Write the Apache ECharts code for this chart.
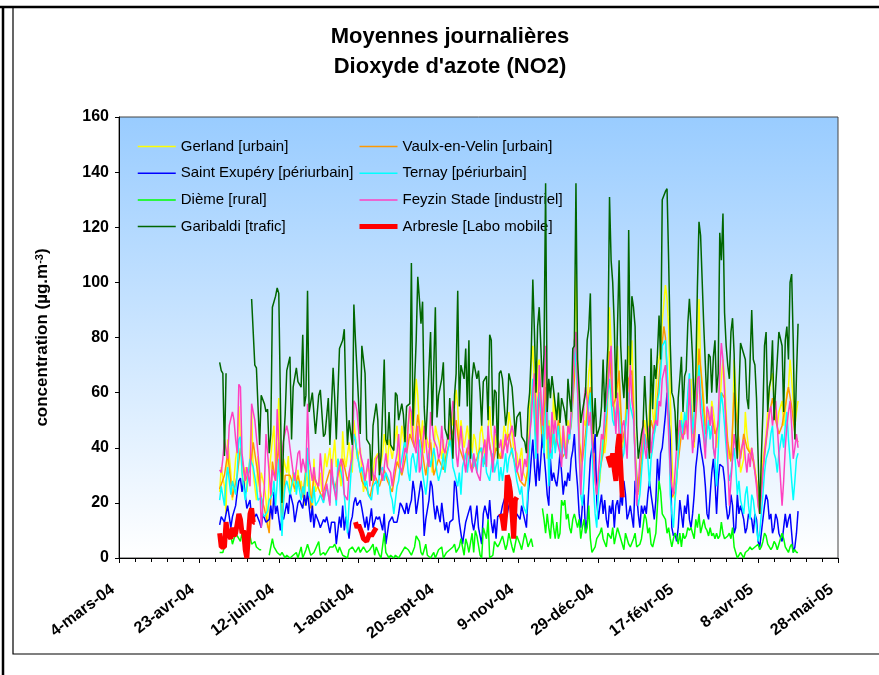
<!DOCTYPE html>
<html><head><meta charset="utf-8">
<script src="https://cdn.jsdelivr.net/npm/echarts@6/dist/echarts.min.js"></script>
<style>html,body{margin:0;padding:0;background:#fff}#c{width:879px;height:675px}</style>
</head><body><div id="c"></div>
<script>
// x = day index counted from 4-mars-04 (day 0)
const tickLabels = ['4-mars-04','23-avr-04','12-juin-04','1-août-04','20-sept-04','9-nov-04','29-déc-04','17-févr-05','8-avr-05','28-mai-05'];
const seriesNames = ['Gerland [urbain]','Vaulx-en-Velin [urbain]','Saint Exupéry [périurbain]','Ternay [périurbain]','Dième [rural]','Feyzin Stade [industriel]','Garibaldi [trafic]','Arbresle [Labo mobile]'];

const gerland = [[63,24],[64,33],[66,26],[67,16],[68,43],[70,31],[71,21],[73,36],[74,40],[75,55],[77,31],[78,25],[79,33],[80,24],[82,37],[83,54],[84,31],[86,21],[87,37],[88,24],[89,31],[91,26],[92,21],[93,11],[94,31],[96,43],[97,48],[98,31],[100,58],[101,31],[102,11],[103,36],[105,31],[106,37],[107,22],[109,31],[110,24],[112,32],[113,26],[114,28],[116,19],[117,33],[118,26],[119,32],[121,16],[122,36],[123,24],[125,27],[126,31],[127,24],[129,38],[130,33],[132,40],[133,31],[135,43],[136,33],[137,36],[139,26],[140,46],[141,37],[142,33],[144,42],[146,31],[147,50],[148,44],[149,36],[151,40],[152,31],[153,24],[155,31],[156,33],[158,28],[159,31],[160,36],[162,38],[163,31],[165,38],[166,45],[167,40],[168,33],[169,43],[171,36],[172,40],[174,48],[175,33],[176,40],[177,48],[179,40],[180,43],[181,48],[182,55],[183,45],[184,43],[185,53],[186,65],[187,59],[188,48],[189,43],[190,50],[191,38],[192,45],[194,40],[195,43],[196,31],[197,37],[198,48],[199,45],[200,43],[201,40],[202,36],[203,43],[204,31],[205,38],[206,40],[207,48],[208,53],[209,48],[211,61],[212,55],[213,40],[214,50],[215,45],[216,40],[218,48],[219,43],[220,45],[221,38],[222,45],[223,43],[224,38],[225,36],[226,45],[227,48],[228,43],[229,36],[230,38],[232,55],[233,45],[235,38],[236,45],[237,40],[238,36],[240,40],[241,48],[243,43],[244,53],[246,45],[247,40],[249,38],[250,33],[252,40],[253,31],[255,28],[256,36],[257,53],[258,70],[259,77],[260,62],[261,45],[262,70],[263,72],[264,57],[265,42],[266,60],[267,67],[268,36],[269,50],[271,40],[272,60],[273,48],[274,53],[275,57],[276,45],[277,40],[278,48],[279,43],[280,38],[281,50],[282,45],[283,53],[284,65],[285,77],[286,105],[287,72],[288,48],[289,31],[290,40],[291,50],[292,48],[293,55],[294,67],[295,72],[296,50],[297,38],[298,28],[299,23],[301,28],[302,38],[303,45],[304,38],[305,43],[306,60],[307,91],[308,77],[309,60],[310,50],[311,70],[312,77],[313,60],[314,50],[315,40],[316,43],[317,52],[318,62],[319,77],[320,67],[321,79],[322,60],[323,40],[324,26],[325,23],[326,28],[327,38],[328,45],[329,50],[330,45],[331,40],[332,55],[333,60],[334,53],[335,48],[336,60],[337,70],[338,72],[339,77],[340,86],[342,99],[343,94],[344,84],[345,60],[346,38],[347,23],[348,21],[349,28],[350,38],[351,48],[352,53],[353,43],[354,50],[355,48],[356,53],[357,60],[358,65],[359,48],[360,40],[361,60],[362,70],[363,94],[364,70],[366,57],[367,48],[368,53],[369,50],[370,48],[371,57],[372,53],[373,48],[374,40],[375,45],[376,55],[377,65],[378,72],[379,65],[380,53],[381,40],[382,36],[383,38],[384,45],[385,72],[386,60],[387,53],[388,40],[389,31],[391,36],[392,53],[393,45],[394,40],[395,38],[396,40],[397,36],[398,33],[399,28],[400,19],[401,16],[402,26],[403,36],[404,40],[405,45],[406,53],[407,60],[408,65],[409,67],[410,57],[411,53],[412,48],[413,53],[415,57],[416,48],[417,53],[418,60],[419,62],[420,72],[421,65],[422,57],[423,48],[424,53],[425,57]];

const vaulx = [[63,25],[66,30],[68,38],[71,22],[74,30],[76,40],[79,28],[82,32],[84,42],[87,30],[89,22],[91,18],[94,9],[96,35],[98,28],[100,42],[102,12],[104,30],[107,30],[110,25],[112,30],[115,22],[118,38],[120,18],[122,30],[125,25],[127,22],[130,28],[132,32],[135,25],[137,30],[140,36],[143,28],[145,32],[147,45],[150,35],[152,28],[155,25],[157,22],[160,30],[163,26],[166,32],[168,28],[171,24],[174,35],[177,30],[180,38],[182,45],[185,40],[187,52],[190,38],[192,30],[195,42],[197,30],[200,36],[203,32],[205,38],[208,44],[211,50],[213,40],[216,35],[218,40],[221,32],[224,36],[226,40],[229,34],[231,45],[234,34],[236,40],[239,36],[241,40],[244,45],[246,38],[249,32],[251,28],[254,26],[256,32],[258,55],[259,62],[261,42],[263,60],[265,40],[267,62],[269,35],[271,45],[273,40],[275,50],[277,36],[279,38],[281,42],[283,48],[285,65],[286,82],[288,42],[290,35],[292,45],[294,58],[295,62],[297,40],[299,25],[301,32],[303,38],[305,50],[307,75],[309,55],[311,58],[313,68],[315,42],[317,48],[319,65],[321,68],[323,38],[325,24],[327,35],[329,45],[331,40],[333,50],[335,45],[337,58],[339,72],[341,84],[342,80],[344,55],[346,22],[348,24],[350,35],[352,45],[354,45],[356,58],[358,55],[360,42],[362,60],[363,76],[365,62],[367,45],[369,48],[371,52],[373,45],[375,48],[377,60],[379,58],[381,42],[383,35],[385,60],[387,48],[389,36],[391,45],[393,40],[395,38],[397,35],[399,28],[401,18],[403,32],[405,42],[407,52],[409,58],[411,50],[413,45],[415,48],[417,55],[419,62],[421,55],[423,45],[425,42]];

const saintExupery = [[63,12],[64,15],[66,13],[68,19],[70,11],[71,15],[73,19],[74,24],[75,28],[76,29],[77,24],[78,28],[80,18],[82,21],[83,14],[85,15],[86,16],[88,13],[89,11],[90,16],[92,13],[94,14],[95,19],[96,14],[97,24],[98,16],[99,19],[101,10],[102,15],[103,14],[105,20],[106,16],[107,24],[109,19],[110,13],[112,20],[113,21],[115,18],[116,23],[117,19],[118,24],[120,13],[121,19],[122,11],[123,16],[125,13],[126,11],[128,14],[129,13],[130,15],[132,9],[133,13],[135,13],[136,5],[137,10],[138,15],[139,11],[140,19],[141,10],[142,15],[144,7],[145,13],[146,15],[147,20],[148,22],[149,19],[151,21],[152,18],[154,11],[155,15],[156,10],[158,18],[159,11],[161,15],[162,14],[163,15],[165,10],[166,16],[167,5],[169,13],[170,14],[171,15],[172,13],[174,13],[175,16],[176,20],[177,19],[179,16],[180,20],[181,16],[182,19],[183,21],[184,28],[185,24],[186,16],[188,24],[189,28],[190,24],[191,8],[192,14],[194,21],[195,28],[196,26],[197,19],[198,14],[199,19],[201,13],[202,20],[204,10],[205,13],[206,9],[207,13],[209,14],[210,28],[211,26],[212,19],[213,13],[214,9],[215,5],[217,13],[218,15],[220,19],[221,13],[222,10],[223,14],[224,19],[225,11],[227,5],[228,16],[229,19],[231,14],[232,21],[233,13],[234,9],[235,14],[236,7],[237,15],[239,16],[240,19],[242,23],[243,16],[244,19],[246,23],[247,14],[249,16],[251,14],[252,19],[253,19],[255,11],[256,23],[257,28],[258,36],[259,43],[260,33],[261,26],[262,38],[263,28],[264,36],[265,45],[267,31],[268,23],[269,19],[270,36],[271,28],[272,31],[273,28],[274,26],[275,31],[276,38],[277,31],[278,23],[279,28],[280,26],[281,31],[282,28],[283,36],[284,39],[285,45],[286,33],[287,26],[288,16],[289,11],[290,19],[291,23],[292,9],[293,14],[295,36],[296,40],[297,38],[298,45],[299,21],[300,14],[301,19],[302,23],[303,16],[304,21],[305,14],[306,11],[307,19],[308,16],[309,21],[310,11],[311,19],[312,21],[313,16],[314,23],[315,19],[316,28],[317,23],[318,14],[319,16],[320,19],[322,11],[323,28],[324,23],[325,16],[326,11],[327,19],[328,16],[329,19],[330,16],[331,23],[332,28],[333,23],[334,19],[335,14],[336,21],[337,36],[338,28],[339,38],[340,40],[342,52],[343,60],[344,52],[345,43],[346,11],[347,8],[348,9],[349,6],[350,11],[351,21],[352,16],[353,11],[354,19],[355,16],[356,23],[357,14],[358,11],[359,16],[360,23],[361,33],[362,38],[363,45],[364,40],[366,33],[367,26],[368,16],[369,14],[370,23],[371,31],[372,36],[373,28],[374,16],[375,28],[376,34],[377,34],[378,33],[379,28],[380,19],[381,14],[382,16],[383,23],[384,19],[385,9],[386,11],[387,23],[388,16],[389,19],[391,14],[392,9],[393,11],[394,16],[395,15],[396,14],[397,9],[398,16],[399,14],[400,6],[401,4],[402,9],[403,14],[404,19],[405,23],[406,21],[407,14],[408,16],[409,9],[410,11],[411,16],[412,14],[413,9],[415,6],[416,11],[417,16],[418,11],[419,14],[420,16],[421,9],[422,2],[423,4],[424,9],[425,17]];

const ternay = [[63,21],[64,26],[66,19],[67,28],[68,33],[70,23],[71,28],[73,23],[74,31],[75,43],[76,44],[77,31],[79,21],[80,26],[82,36],[83,36],[84,33],[86,26],[87,21],[89,22],[90,16],[91,15],[93,17],[94,21],[96,23],[97,28],[98,19],[100,36],[101,23],[102,8],[103,21],[104,26],[105,28],[107,23],[108,26],[110,31],[111,23],[112,28],[114,21],[115,26],[116,23],[118,40],[119,23],[121,20],[122,26],[123,19],[125,21],[126,23],[128,20],[129,23],[130,26],[132,20],[133,31],[135,26],[136,19],[137,36],[139,31],[140,28],[141,23],[143,9],[144,20],[146,38],[147,45],[148,43],[149,38],[151,31],[152,33],[154,26],[155,28],[156,23],[158,21],[159,26],[161,28],[162,23],[163,31],[165,33],[166,28],[167,31],[169,28],[170,23],[171,21],[172,16],[174,26],[175,28],[176,33],[177,36],[179,43],[180,38],[181,31],[182,28],[183,36],[184,38],[186,31],[187,38],[188,43],[189,38],[190,31],[192,23],[193,28],[194,38],[195,33],[197,40],[198,36],[199,31],[200,28],[202,33],[203,38],[204,31],[205,36],[207,43],[208,40],[209,33],[210,31],[212,26],[213,31],[214,23],[215,33],[217,38],[218,31],[219,36],[220,40],[222,33],[223,36],[224,31],[225,38],[227,40],[228,33],[229,38],[230,31],[232,28],[233,33],[234,38],[235,31],[237,36],[238,28],[239,33],[240,28],[242,38],[243,31],[244,36],[246,40],[247,36],[249,28],[251,23],[252,26],[253,19],[255,16],[256,26],[257,40],[258,55],[259,65],[260,50],[261,36],[262,57],[263,60],[265,48],[266,38],[267,53],[268,60],[269,26],[270,40],[271,36],[272,48],[273,38],[274,43],[275,48],[276,40],[277,36],[278,43],[279,38],[280,36],[281,45],[282,43],[283,50],[284,60],[285,79],[287,60],[288,38],[289,23],[290,19],[291,28],[292,40],[293,48],[294,55],[295,60],[296,40],[297,26],[298,16],[299,11],[300,23],[301,31],[302,36],[303,43],[304,48],[305,53],[306,60],[307,65],[308,57],[309,50],[310,48],[311,53],[312,57],[313,53],[314,45],[315,36],[316,38],[317,48],[318,53],[319,60],[320,55],[322,50],[323,38],[324,23],[325,19],[326,23],[327,31],[328,38],[329,45],[330,40],[331,36],[332,26],[333,36],[334,40],[335,45],[336,48],[337,57],[338,60],[339,67],[340,77],[342,79],[343,70],[344,53],[345,23],[346,16],[347,11],[348,21],[349,28],[350,38],[351,45],[352,50],[353,45],[354,53],[355,48],[356,60],[357,67],[358,55],[359,45],[360,53],[361,57],[362,62],[363,70],[364,60],[366,48],[367,40],[368,45],[369,50],[370,43],[371,48],[372,40],[373,36],[374,26],[375,38],[376,53],[377,60],[378,55],[379,48],[380,40],[381,33],[382,28],[383,31],[384,36],[385,40],[386,33],[387,23],[388,28],[389,21],[391,16],[392,23],[393,26],[394,19],[395,14],[396,23],[397,21],[398,16],[399,11],[400,6],[401,9],[402,16],[403,23],[404,31],[405,36],[406,38],[407,40],[408,45],[409,48],[410,38],[411,36],[412,31],[413,38],[415,45],[416,40],[417,48],[418,53],[419,43],[420,36],[421,28],[422,21],[423,28],[424,36],[425,38]];

const dieme = [[63,2],[65,2],[67,7],[68,10],[70,8],[71,5],[73,9],[74,8],[76,6],[77,9],[78,5],[80,6],[82,8],[83,5],[85,6],[86,4],[88,3],[89,3],[91,null],[94,1],[96,7],[97,4],[99,2],[101,1],[102,2],[104,0],[105,1],[107,0],[109,1],[111,2],[112,0],[114,4],[115,0],[117,3],[118,5],[120,1],[122,2],[123,2],[125,6],[126,1],[128,2],[129,1],[130,2],[132,4],[134,4],[135,5],[137,2],[138,4],[140,1],[141,1],[143,0],[144,3],[146,4],[147,4],[148,2],[150,4],[151,2],[153,4],[155,2],[157,3],[159,5],[160,1],[161,4],[163,1],[164,0],[166,9],[167,2],[169,0],[170,1],[172,0],[173,1],[175,0],[177,2],[179,4],[181,3],[183,1],[185,4],[186,8],[188,6],[189,2],[190,1],[192,5],[193,1],[195,0],[197,2],[198,0],[200,3],[202,4],[203,0],[205,2],[207,3],[209,4],[210,5],[211,2],[213,4],[214,7],[216,1],[217,7],[218,5],[219,2],[221,9],[222,2],[223,10],[224,8],[226,1],[227,0],[228,11],[230,7],[231,14],[232,0],[234,1],[235,6],[237,4],[238,5],[240,8],[242,3],[243,5],[244,9],[246,4],[247,2],[249,8],[251,5],[252,3],[254,9],[255,7],[256,4],[258,7],[259,4],[262,null],[265,18],[266,14],[267,9],[268,16],[269,11],[270,7],[271,16],[272,11],[273,7],[274,13],[275,7],[276,9],[277,21],[278,19],[279,21],[280,14],[281,16],[282,11],[283,9],[284,14],[285,16],[287,11],[288,14],[289,7],[290,11],[291,14],[292,9],[293,11],[294,19],[295,7],[296,2],[298,4],[299,7],[301,9],[302,11],[303,7],[305,4],[306,9],[308,7],[309,11],[310,5],[312,11],[313,9],[314,7],[315,5],[316,3],[317,9],[319,5],[320,4],[322,7],[323,9],[324,4],[326,5],[327,7],[329,16],[330,14],[331,9],[332,11],[333,5],[334,4],[335,4],[336,9],[337,19],[338,28],[339,24],[340,16],[342,14],[343,9],[344,11],[345,7],[346,4],[347,7],[348,9],[349,8],[350,5],[351,9],[352,4],[353,9],[354,7],[355,8],[356,11],[357,10],[358,11],[359,9],[360,7],[361,14],[362,11],[363,16],[364,9],[366,14],[367,11],[368,10],[369,8],[370,11],[371,8],[372,9],[373,7],[374,9],[375,7],[376,8],[377,13],[378,9],[379,7],[380,7],[381,8],[382,9],[383,7],[384,11],[385,4],[386,2],[387,0],[388,0],[389,2],[391,0],[392,2],[393,2],[394,3],[395,4],[396,3],[397,3],[400,5],[401,3],[402,4],[403,6],[404,9],[405,8],[406,5],[407,4],[408,3],[409,4],[410,6],[411,5],[412,3],[413,5],[415,9],[416,7],[417,4],[418,3],[419,2],[420,4],[421,5],[422,2],[423,3],[424,2],[425,2]];

const feyzin = [[63,32],[64,31],[65,36],[66,43],[68,36],[69,48],[71,53],[72,50],[73,43],[74,38],[75,63],[76,62],[77,38],[79,28],[80,33],[82,26],[83,56],[85,50],[87,38],[88,31],[89,11],[91,26],[92,45],[94,31],[95,23],[96,32],[98,28],[99,54],[101,31],[102,38],[103,43],[105,48],[106,45],[107,40],[109,31],[110,28],[112,38],[113,39],[114,31],[115,36],[117,31],[118,56],[119,36],[121,28],[122,33],[123,28],[125,26],[126,38],[127,31],[128,21],[130,27],[132,19],[133,36],[134,27],[136,21],[137,31],[139,36],[140,33],[141,23],[143,21],[144,31],[146,37],[147,57],[148,56],[149,53],[150,46],[151,38],[153,33],[154,28],[156,36],[157,26],[158,33],[160,28],[161,36],[163,38],[164,31],[165,28],[167,38],[168,33],[170,31],[171,26],[172,31],[174,38],[175,45],[176,33],[177,31],[179,40],[180,38],[181,48],[182,55],[183,53],[184,43],[186,38],[187,48],[188,31],[189,33],[190,40],[191,48],[192,43],[193,36],[194,33],[195,53],[196,48],[197,43],[199,40],[200,36],[201,38],[202,48],[203,40],[204,38],[206,45],[207,43],[209,57],[210,53],[211,38],[212,33],[214,48],[215,40],[217,31],[218,38],[219,43],[220,33],[221,31],[222,38],[224,31],[225,31],[226,28],[227,36],[229,43],[230,33],[231,48],[232,40],[233,38],[234,31],[235,48],[236,45],[238,40],[239,43],[240,36],[242,45],[243,38],[244,43],[246,48],[247,45],[248,40],[249,31],[251,36],[252,28],[254,36],[255,33],[256,40],[258,50],[259,60],[260,67],[261,53],[262,38],[263,70],[264,60],[265,48],[266,62],[267,77],[268,43],[269,48],[270,38],[271,53],[272,45],[273,50],[274,43],[276,38],[277,33],[278,48],[279,40],[280,36],[281,48],[282,45],[283,53],[284,60],[285,79],[286,82],[287,62],[288,40],[289,23],[290,36],[291,57],[292,62],[293,57],[294,48],[295,53],[296,43],[297,36],[298,28],[299,23],[300,31],[301,38],[302,45],[303,43],[304,53],[305,57],[306,62],[307,70],[308,77],[309,57],[310,53],[311,45],[312,60],[313,45],[314,36],[315,48],[316,50],[317,43],[318,36],[319,53],[320,70],[321,57],[322,53],[323,36],[324,19],[325,26],[326,36],[327,40],[328,50],[329,40],[330,36],[331,45],[332,48],[333,38],[334,45],[335,48],[336,50],[337,48],[338,57],[339,55],[340,65],[342,70],[343,60],[344,45],[345,31],[346,26],[347,23],[348,31],[349,40],[350,45],[351,50],[352,45],[353,43],[354,48],[355,50],[356,43],[357,65],[358,50],[359,38],[360,45],[361,53],[362,65],[363,66],[364,53],[366,43],[367,36],[368,55],[369,53],[370,48],[371,55],[372,40],[373,36],[374,45],[375,50],[376,67],[377,78],[378,72],[379,60],[380,45],[381,36],[382,19],[383,28],[384,36],[385,45],[386,40],[387,36],[388,33],[389,38],[391,43],[392,36],[393,31],[394,38],[395,33],[396,40],[397,36],[398,31],[399,26],[400,19],[401,16],[402,23],[403,31],[404,38],[405,43],[406,48],[407,53],[408,55],[409,48],[410,53],[411,57],[412,48],[413,38],[415,19],[416,28],[417,40],[418,48],[419,53],[420,57],[421,48],[422,36],[423,40],[424,45],[425,40]];

const garibaldi = [[63,71],[64,68],[65,67],[66,37],[67,67],[75,null],[83,94],[85,70],[86,69],[87,55],[88,41],[89,59],[91,56],[92,53],[93,54],[94,38],[95,45],[96,91],[97,91],[98,95],[99,98],[100,96],[102,20],[103,42],[104,52],[105,68],[107,73],[108,43],[109,62],[111,69],[112,64],[114,62],[115,81],[116,55],[117,59],[118,97],[119,53],[121,60],[122,60],[123,45],[125,59],[126,61],[128,44],[129,45],[131,58],[132,41],[134,69],[135,58],[136,43],[138,76],[139,76],[140,79],[141,83],[142,58],[143,41],[144,50],[146,41],[147,92],[148,79],[150,56],[151,45],[152,77],[154,67],[155,43],[157,41],[158,28],[159,48],[161,56],[162,50],[163,30],[164,37],[166,72],[167,43],[168,41],[169,53],[170,41],[172,39],[173,60],[174,59],[175,50],[177,56],[178,52],[179,42],[180,55],[182,56],[183,107],[184,48],[186,79],[187,102],[188,94],[189,85],[190,93],[191,55],[192,43],[193,55],[195,82],[196,48],[198,91],[199,51],[200,59],[202,65],[203,71],[204,47],[206,43],[207,58],[209,36],[210,59],[211,67],[212,97],[213,55],[214,70],[216,65],[217,76],[218,55],[219,79],[220,36],[221,65],[222,71],[224,65],[225,68],[226,60],[227,48],[228,64],[230,66],[231,50],[232,81],[233,79],[234,48],[235,61],[236,60],[237,36],[238,67],[239,68],[240,65],[242,48],[243,53],[244,67],[246,62],[247,54],[248,44],[249,51],[251,53],[252,44],[254,42],[255,38],[256,54],[257,60],[258,74],[259,101],[260,82],[261,60],[262,84],[263,91],[264,77],[265,62],[266,74],[267,136],[268,53],[269,65],[270,58],[271,66],[272,61],[274,50],[275,60],[276,49],[277,58],[279,53],[280,48],[281,65],[282,58],[283,53],[284,76],[285,77],[286,136],[287,72],[288,61],[289,49],[290,53],[292,60],[293,79],[294,83],[295,96],[296,60],[297,45],[298,58],[299,44],[301,48],[302,55],[303,72],[304,53],[305,64],[306,77],[307,131],[308,108],[309,100],[310,84],[311,58],[312,84],[313,108],[314,77],[315,65],[316,58],[317,72],[318,54],[319,119],[320,70],[321,95],[322,91],[323,84],[324,48],[325,36],[327,45],[328,48],[329,66],[330,53],[331,44],[332,36],[333,76],[334,54],[335,70],[336,65],[337,74],[338,88],[339,72],[340,130],[342,133],[343,134],[344,108],[345,78],[346,60],[347,58],[348,53],[349,39],[350,58],[351,65],[352,73],[353,53],[354,66],[355,68],[356,85],[357,94],[358,84],[359,72],[360,53],[361,67],[362,98],[363,122],[364,117],[366,84],[367,70],[368,56],[369,74],[370,73],[371,60],[372,73],[373,79],[374,60],[375,67],[376,118],[377,108],[378,125],[379,89],[380,77],[381,70],[382,65],[383,82],[384,87],[385,74],[386,45],[387,36],[388,60],[389,78],[391,74],[392,72],[393,58],[394,54],[395,72],[396,90],[397,72],[398,70],[399,58],[400,37],[401,16],[402,36],[403,53],[404,77],[405,82],[406,53],[407,62],[408,65],[409,79],[410,50],[411,62],[412,72],[413,82],[415,77],[416,53],[417,79],[418,84],[419,72],[420,100],[421,103],[422,78],[423,43],[424,66],[425,85]];

const arbresle = [[63,9],[64,4],[66,4],[67,13],[68,9],[70,7],[71,11],[72,8],[73,9],[75,16],[76,14],[77,9],[78,10],[79,3],[80,0],[82,16],[83,18],[84,13],[85,13],[100,null],[148,13],[149,11],[150,12],[152,9],[153,7],[155,6],[157,9],[158,8],[160,10],[161,11],[200,null],[239,16],[240,14],[241,10],[242,16],[243,30],[244,28],[245,24],[246,16],[247,7],[248,21],[249,22],[280,null],[306,37],[307,35],[308,33],[309,38],[310,32],[311,28],[312,40],[313,45],[314,45],[315,22]];

const seriesData = [gerland, vaulx, saintExupery, ternay, dieme, feyzin, garibaldi, arbresle];
const seriesColors = ['#FFFF00','#FF9900','#0000FF','#00FFFF','#00FF00','#FF40C0','#006600','#FF0000'];
const seriesWidths = [1.5,1.5,1.5,1.5,1.5,1.5,1.5,5];

const F = '"Liberation Sans", Arial, sans-serif';
const chart = echarts.init(document.getElementById('c'), null, {renderer: 'canvas'});

const series = seriesNames.map((name, i) => ({
  name: name,
  type: 'line',
  data: seriesData[i].map(p => [p[0], p[1] === null ? '-' : p[1]]),
  symbol: 'none',
  showSymbol: false,
  connectNulls: false,
  lineStyle: {color: seriesColors[i], width: seriesWidths[i]},
  itemStyle: {color: seriesColors[i]},
  emphasis: {disabled: true},
  z: 2 + i
}));

const legendCommon = {
  orient: 'vertical', itemWidth: 38, itemHeight: 15, itemGap: 11.7, padding: 0, top: 139,
  selectedMode: false,
  itemStyle: {opacity: 0},
  lineStyle: {width: 'inherit'},
  textStyle: {fontSize: 15, fontFamily: F, color: '#000'}
};

chart.setOption({
  animation: false,
  backgroundColor: '#fff',
  title: {
    text: 'Moyennes journalières\nDioxyde d\'azote (NO2)',
    left: 445, top: 17, textAlign: 'center',
    textStyle: {fontSize: 22, fontWeight: 'bold', fontFamily: F, color: '#000', lineHeight: 30}
  },
  legend: [
    Object.assign({left: 137, data: [seriesNames[0], seriesNames[2], seriesNames[4], seriesNames[6]]}, legendCommon),
    Object.assign({left: 357, data: [seriesNames[1], seriesNames[3], seriesNames[5], seriesNames[7]]}, legendCommon)
  ],
  grid: {
    left: 119, right: 41, top: 117, bottom: 117, show: true,
    backgroundColor: new echarts.graphic.LinearGradient(0, 0, 0, 1, [{offset: 0, color: '#99CCFF'}, {offset: 1, color: '#FFFFFF'}]),
    borderColor: '#444', borderWidth: 1
  },
  xAxis: {
    type: 'value', min: 0, max: 450, interval: 50,
    axisLine: {show: true, lineStyle: {color: '#000', width: 1}},
    axisTick: {show: true, length: 5, lineStyle: {color: '#000'}},
    minorTick: {show: true, splitNumber: 5, length: 4, lineStyle: {color: '#000'}},
    splitLine: {show: false}, minorSplitLine: {show: false},
    axisLabel: {rotate: 37, fontSize: 16, fontWeight: 'bold', fontFamily: F, color: '#000', margin: 25,
      padding: [0, 8, 0, 0],
      formatter: v => tickLabels[Math.round(v / 50)] || ''}
  },
  yAxis: {
    type: 'value', min: 0, max: 160, interval: 20,
    axisLine: {show: true, lineStyle: {color: '#000', width: 1}},
    axisTick: {show: true, length: 4, lineStyle: {color: '#000'}},
    splitLine: {show: false},
    axisLabel: {fontSize: 16, fontWeight: 'bold', fontFamily: F, color: '#000', margin: 10},
    name: 'concentration (µg.m{sup|-3})',
    nameLocation: 'middle', nameGap: 68,
    nameTextStyle: {fontSize: 17, fontWeight: 'bold', fontFamily: F, color: '#000',
      rich: {sup: {fontSize: 11, fontWeight: 'bold', fontFamily: F, color: '#000', verticalAlign: 'top', lineHeight: 11}}}
  },
  graphic: [
    {type: 'line', silent: true, shape: {x1: 0, y1: 7, x2: 879, y2: 7}, style: {stroke: '#000', lineWidth: 2.5}},
    {type: 'line', silent: true, shape: {x1: 3, y1: 6, x2: 3, y2: 675}, style: {stroke: '#000', lineWidth: 2.5}},
    {type: 'polyline', silent: true, shape: {points: [[13, 7], [13, 654], [879, 654]]}, style: {stroke: '#000', lineWidth: 1.2, fill: null}}
  ],
  series: series
});
</script>
</body></html>
